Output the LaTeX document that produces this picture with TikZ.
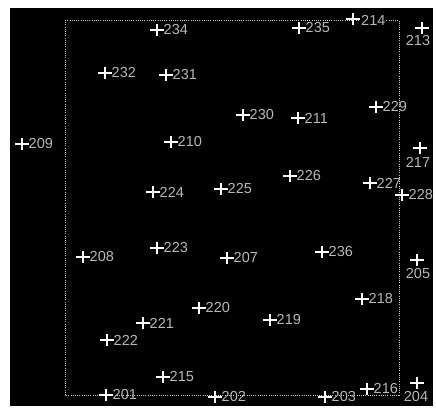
\documentclass[tikz,border=0pt]{standalone}
\usepackage{fontspec}
\setmainfont{Liberation Sans}
\begin{document}
\begin{tikzpicture}[x=1pt,y=1pt,
  plusmark/.style={draw=white,line width=1.3pt},
  lbl/.style={text=white!72!black,inner sep=0pt,font=\fontsize{14.5}{15}\selectfont},
  frame/.style={draw=white!80!black,line width=0.7pt,dash pattern=on 1pt off 1.2pt}]
\useasboundingbox (0,0) rectangle (436,-410);
\fill[white] (0,0) rectangle (436,-410);
\fill[black] (10,-8) rectangle (433,-406);
\draw[frame] (65,-20) rectangle (399,-395);
% points with label to the right
\foreach \px/\py/\t in {157/30/234, 299/28/235, 105/73/232, 166/75/231,
  243/115/230, 298/118/211, 376/107/229, 22/144/209, 171/142/210,
  153/192/224, 221/189/225, 290/176/226, 370/183/227, 402/195/228,
  157/248/223, 83/257/208, 227/258/207, 322/252/236,
  199/308/220, 143/323/221, 107/340/222, 270/320/219, 362/299/218,
  163/377/215, 106/395/201, 215/397/202, 325/397/203, 367/389/216}{
  \coordinate (p\t) at (\px,-\py);
  \draw[plusmark] ([xshift=-7pt]p\t) -- ([xshift=7pt]p\t)
                  ([yshift=-6pt]p\t) -- ([yshift=6pt]p\t);
  \node[lbl,anchor=west] (l\t) at ([xshift=6.5pt]p\t) {\t};
}
% points with label below
\foreach \px/\py/\t/\lx/\ly in {422/28/213/418/41, 420/148/217/418/162,
  417/260/205/418/274, 417/383/204/416/396}{
  \coordinate (p\t) at (\px,-\py);
  \draw[plusmark] ([xshift=-7pt]p\t) -- ([xshift=7pt]p\t)
                  ([yshift=-6pt]p\t) -- ([yshift=6pt]p\t);
  \node[lbl] (l\t) at (\lx,-\ly) {\t};
}
% point on the top edge
\coordinate (p214) at (353,-19);
\draw[plusmark] ([xshift=-7pt]p214) -- ([xshift=7pt]p214)
                ([yshift=-6pt]p214) -- ([yshift=6pt]p214);
\node[lbl,anchor=west,fill=black,inner xsep=1pt] (l214) at (360,-20) {214};
\end{tikzpicture}
\end{document}
